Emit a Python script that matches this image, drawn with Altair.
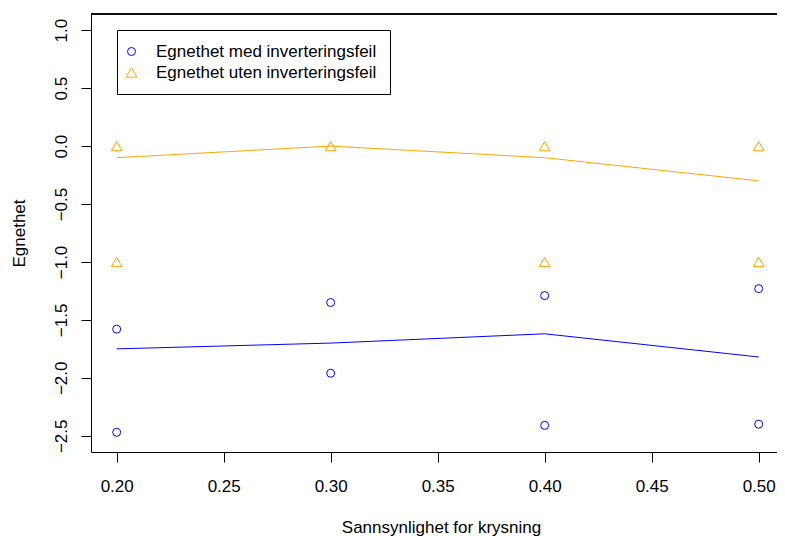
import altair as alt
import pandas as pd

# Data
x_levels = [0.20, 0.30, 0.40, 0.50]

med_x = [0.20, 0.20, 0.30, 0.30, 0.40, 0.40, 0.50, 0.50]
med_y = [-1.58, -2.47, -1.35, -1.96, -1.29, -2.41, -1.23, -2.40]
med_mean = [-1.75, -1.70, -1.62, -1.82]

uten_x = [0.20, 0.20, 0.30, 0.40, 0.40, 0.50, 0.50]
uten_y = [0.0, -1.0, 0.0, 0.0, -1.0, 0.0, -1.0]
uten_mean = [-0.10, 0.00, -0.10, -0.30]

series = ["Egnethet med inverteringsfeil", "Egnethet uten inverteringsfeil"]
colors = ["blue", "orange"]
shapes = ["circle", "triangle-up"]
sizes = [64, 115]

x_ticks = [0.20, 0.25, 0.30, 0.35, 0.40, 0.45, 0.50]
y_ticks = [-2.5, -2.0, -1.5, -1.0, -0.5, 0.0, 0.5, 1.0]

pts = pd.DataFrame({
    "x": med_x + uten_x,
    "y": med_y + uten_y,
    "serie": [series[0]] * len(med_x) + [series[1]] * len(uten_x),
})
means_med = pd.DataFrame({"x": x_levels, "y": med_mean})
means_uten = pd.DataFrame({"x": x_levels, "y": uten_mean})

FONT = "Liberation Sans"
W, H = 686, 438
xdom = [0.188, 0.188 + W / 2140.0]
ydom = [-2.64, 1.14]

xscale = alt.Scale(domain=xdom, nice=False, zero=False)
yscale = alt.Scale(domain=ydom, nice=False, zero=False)

x_axis = alt.Axis(
    values=x_ticks, format=".2f", title="Sannsynlighet for krysning",
    grid=False, domain=True, domainColor="black", tickSize=10, labelPadding=16,
    tickColor="black", labelFont=FONT, labelFontSize=17, labelColor="black",
    titleFont=FONT, titleFontSize=17, titleFontWeight="normal", titleColor="black",
    titleX=350, titleY=80, titleBaseline="alphabetic", titleAlign="center",
    labelFlush=False, labelOverlap=False,
)
y_axis = alt.Axis(
    values=y_ticks, format=".1f", title="Egnethet",
    grid=False, domain=True, domainColor="black", tickSize=10, labelPadding=11,
    tickColor="black", labelFont=FONT, labelFontSize=17, labelColor="black",
    labelAngle=270, labelAlign="center", labelBaseline="bottom",
    titleFont=FONT, titleFontSize=17, titleFontWeight="normal", titleColor="black",
    titleAngle=270, titleX=-67, titleY=219, titleBaseline="alphabetic", titleAlign="center",
    labelFlush=False, labelOverlap=False,
)

line_med = alt.Chart(means_med).mark_line(strokeWidth=1, color=colors[0]).encode(
    x=alt.X("x:Q", scale=xscale, axis=x_axis),
    y=alt.Y("y:Q", scale=yscale, axis=y_axis),
)
line_uten = alt.Chart(means_uten).mark_line(strokeWidth=1, color=colors[1]).encode(
    x=alt.X("x:Q", scale=xscale),
    y=alt.Y("y:Q", scale=yscale),
)

# top edge of the plot box (the right edge lies beyond the window in the reference)
top_edge = alt.Chart(means_med).mark_rule(color="black", strokeWidth=1).encode(
    y=alt.datum(ydom[1], scale=yscale),
)

legend = alt.Legend(
    title=None, orient="none", legendX=26, legendY=16,
    strokeColor="black", fillColor="white", padding=13,
    labelFont=FONT, labelFontSize=17, labelColor="black", labelLimit=500,
    rowPadding=3, labelOffset=16, symbolOffset=-7, symbolStrokeWidth=1,
    cornerRadius=0,
)

points = alt.Chart(pts).mark_point(filled=False, strokeWidth=1, opacity=1).encode(
    x=alt.X("x:Q", scale=xscale),
    y=alt.Y("y:Q", scale=yscale),
    color=alt.Color("serie:N", scale=alt.Scale(domain=series, range=colors), legend=legend),
    shape=alt.Shape("serie:N", scale=alt.Scale(domain=series, range=shapes), legend=legend),
    size=alt.Size("serie:N", scale=alt.Scale(domain=series, range=sizes), legend=legend),
)

chart = alt.layer(line_med, line_uten, top_edge, points).properties(
    width=W, height=H,
    autosize=alt.AutoSizeParams(type="none"),
    padding={"left": 83, "top": 6, "right": 0, "bottom": 84},
).configure_view(stroke=None).configure_axis(tickWidth=1, domainWidth=1)

chart.save("out.html", embed_options={"renderer": "svg", "actions": False})
